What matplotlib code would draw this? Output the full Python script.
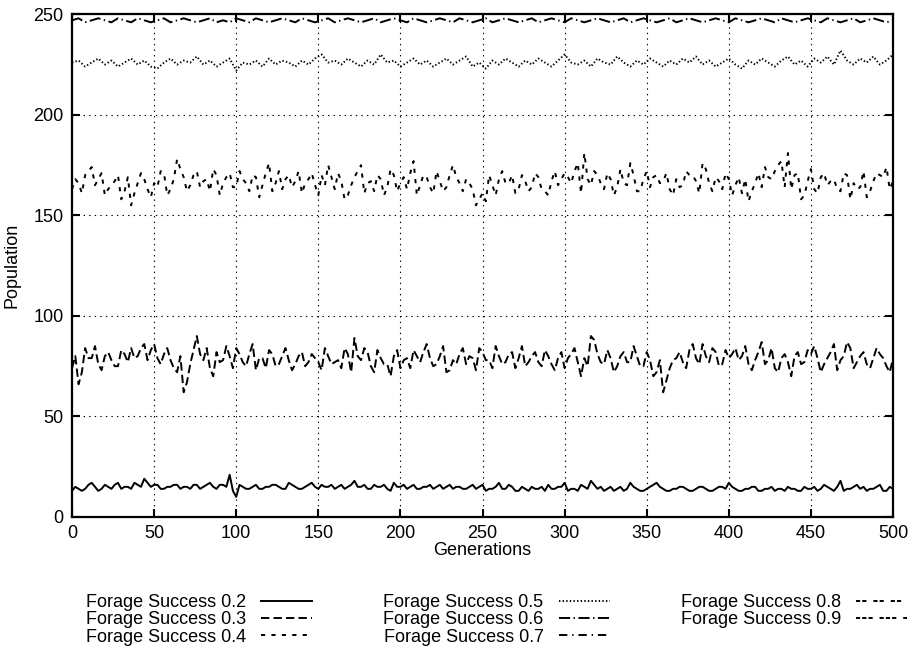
import matplotlib
matplotlib.use("Agg")
import matplotlib.pyplot as plt

plt.rcParams['font.family'] = ['Liberation Sans', 'DejaVu Sans']
plt.rcParams['lines.scale_dashes'] = False

# generations 0..500 every 4, and the in-between ones 2..498 every 4
gens4 = list(range(0, 501, 4))
gens_mid = list(range(2, 500, 4))

# Forage Success 0.2
s02 = [13, 14, 14, 17, 13, 16, 14, 17, 15, 14,
       16, 19, 15, 16, 14, 15, 16, 15, 14, 16,
       15, 17, 14, 16, 21, 10, 15, 14, 16, 14,
       15, 16, 14, 17, 15, 14, 16, 15, 16, 15,
       14, 16, 15, 18, 15, 14, 16, 15, 14, 17,
       15, 14, 16, 14, 15, 14, 16, 15, 14, 15,
       14, 16, 15, 13, 14, 17, 14, 15, 13, 14,
       15, 14, 13, 14, 15, 17, 14, 13, 15, 18,
       14, 13, 15, 14, 13, 17, 14, 13, 15, 17,
       14, 13, 14, 15, 13, 14, 15, 13, 14, 15,
       17, 14, 13, 14, 15, 13, 14, 13, 14, 15,
       14, 13, 14, 15, 14, 15, 13, 18, 14, 15,
       14, 13, 14, 16, 13, 14]
s02_mid = [15, 13, 16, 15, 14, 15, 16, 14, 15, 17,
           15, 17, 16, 14, 15, 16, 14, 15, 16, 14,
           16, 15, 16, 15, 13, 16, 14, 15, 14, 15,
           16, 15, 14, 16, 14, 15, 17, 14, 15, 16,
           15, 14, 16, 15, 16, 14, 15, 16, 13, 15,
           16, 15, 14, 15, 16, 15, 14, 16, 15, 14,
           15, 14, 16, 14, 15, 14, 16, 13, 15, 13,
           14, 15, 16, 14, 15, 13, 14, 16, 14, 16,
           15, 14, 13, 15, 14, 15, 13, 14, 16, 15,
           13, 14, 15, 14, 13, 15, 14, 13, 15, 14,
           15, 13, 14, 15, 13, 14, 15, 14, 13, 14,
           13, 15, 14, 13, 16, 14, 15, 13, 14, 16,
           15, 14, 15, 13, 15]

# Forage Success 0.3
s03 = [74, 66, 84, 79, 76, 80, 78, 75, 81, 84,
       80, 86, 83, 79, 81, 78, 72, 62, 76, 90,
       78, 74, 82, 78, 80, 84, 77, 81, 73, 79,
       83, 75, 80, 78, 76, 82, 77, 79, 73, 80,
       77, 74, 81, 89, 78, 82, 72, 79, 76, 80,
       74, 79, 83, 77, 86, 75, 80, 72, 78, 81,
       76, 79, 84, 78, 74, 80, 77, 82, 79, 75,
       80, 77, 83, 76, 79, 74, 81, 77, 79, 90,
       81, 76, 79, 75, 82, 77, 80, 75, 78, 72,
       62, 74, 79, 77, 83, 79, 86, 77, 82, 76,
       79, 84, 80, 76, 78, 87, 78, 74, 79, 77,
       80, 76, 83, 85, 72, 79, 86, 78, 87, 74,
       80, 76, 79, 81, 75, 79]
s03_mid = [80, 72, 79, 85, 73, 82, 75, 83, 77, 79,
           84, 78, 86, 76, 84, 74, 80, 67, 83, 81,
           84, 70, 77, 85, 74, 81, 75, 86, 79, 74,
           81, 76, 84, 73, 80, 75, 81, 77, 84, 76,
           78, 84, 72, 80, 84, 75, 83, 76, 70, 83,
           78, 74, 80, 82, 79, 76, 85, 73, 76, 84,
           80, 73, 82, 78, 85, 76, 81, 74, 85, 77,
           82, 75, 80, 73, 82, 79, 84, 70, 75, 88,
           77, 83, 72, 80, 77, 85, 75, 82, 70, 78,
           68, 78, 82, 74, 86, 76, 80, 84, 75, 83,
           81, 78, 85, 73, 82, 76, 84, 72, 81, 70,
           82, 77, 81, 79, 76, 82, 73, 80, 84, 77,
           82, 74, 84, 79, 72]

# Forage Success 0.4
s04 = [163, 166, 170, 174, 168, 160, 165, 170, 162, 155,
       166, 168, 159, 164, 171, 163, 178, 169, 165, 172,
       167, 162, 170, 166, 171, 164, 168, 162, 169, 165,
       176, 166, 163, 170, 167, 161, 168, 165, 170, 175,
       163, 167, 160, 169, 175, 166, 162, 168, 164, 170,
       166, 163, 177, 165, 169, 161, 167, 164, 175, 166,
       168, 163, 158, 157, 165, 168, 166, 170, 163, 167,
       164, 169, 162, 167, 165, 171, 166, 176, 181, 165,
       170, 163, 168, 164, 166, 176, 162, 168, 164, 170,
       167, 163, 168, 165, 170, 167, 176, 166, 169, 163,
       168, 165, 161, 157, 166, 164, 169, 172, 177, 181,
       170, 158, 167, 163, 169, 165, 168, 162, 170, 166,
       164, 159, 167, 170, 174, 167]
s04_mid = [168, 161, 172, 165, 171, 163, 167, 158, 169, 161,
           171, 163, 166, 172, 160, 168, 173, 162, 170, 164,
           168, 173, 160, 169, 164, 172, 166, 170, 159, 171,
           162, 172, 168, 164, 172, 166, 171, 160, 165, 169,
           171, 158, 165, 172, 161, 167, 170, 160, 173, 162,
           169, 171, 160, 170, 164, 172, 162, 170, 169, 162,
           166, 155, 161, 170, 160, 172, 166, 161, 170, 162,
           171, 163, 160, 172, 168, 169, 172, 161, 168, 172,
           166, 171, 160, 173, 165, 170, 162, 172, 169, 166,
           171, 160, 164, 172, 170, 161, 173, 162, 167, 171,
           160, 169, 168, 162, 171, 174, 168, 175, 164, 163,
           171, 160, 173, 161, 171, 167, 163, 171, 158, 163,
           172, 162, 171, 169, 163]

# Forage Success 0.5
s05 = [226, 227, 224, 226, 228, 225, 227, 224, 226, 228,
       225, 227, 224, 223, 226, 228, 225, 227, 226, 229,
       225, 227, 224, 226, 228, 222, 226, 225, 227, 224,
       228, 225, 227, 226, 224, 227, 225, 228, 230, 226,
       227, 225, 228, 226, 224, 227, 225, 230, 226, 227,
       224, 226, 228, 225, 227, 224, 226, 228, 225, 227,
       229, 224, 226, 223, 227, 225, 228, 226, 224, 227,
       225, 228, 226, 224, 227, 230, 226, 225, 227, 224,
       228, 226, 225, 229, 226, 224, 227, 225, 228, 226,
       224, 227, 225, 228, 226, 229, 225, 227, 224, 226,
       228, 225, 223, 227, 225, 228, 226, 224, 227, 229,
       225, 227, 224, 228, 226, 229, 225, 232, 227, 225,
       228, 226, 229, 225, 227, 230]

# Forage Success 0.6
s06 = [247, 248, 246, 247, 248, 247, 246, 248, 247, 246,
       248, 247, 246, 247, 248, 246, 247, 248, 247, 246,
       247, 248, 246, 247, 246, 248, 247, 246, 248, 247,
       246, 247, 248, 247, 246, 248, 247, 246, 247, 248,
       246, 247, 248, 247, 246, 247, 248, 246, 247, 248,
       247, 246, 248, 247, 246, 247, 248, 247, 246, 248,
       247, 246, 247, 248, 246, 247, 248, 247, 246, 247,
       248, 246, 247, 248, 247, 246, 248, 247, 246, 247,
       248, 247, 246, 247, 248, 246, 247, 248, 247, 246,
       247, 248, 246, 247, 248, 247, 246, 247, 248, 247,
       246, 248, 247, 246, 247, 248, 247, 246, 248, 247,
       246, 247, 248, 247, 246, 248, 247, 246, 247, 248,
       246, 247, 248, 247, 246, 247]

# 0.7 - 0.9 sit at the population cap
gens_cap = list(range(0, 501, 20))
s07 = [250] * 26
s08 = [250] * 26
s09 = [250] * 26

labels = ['Forage Success 0.2', 'Forage Success 0.3', 'Forage Success 0.4',
          'Forage Success 0.5', 'Forage Success 0.6', 'Forage Success 0.7',
          'Forage Success 0.8', 'Forage Success 0.9']


def merge(g_a, v_a, g_b, v_b):
    pts = sorted(zip(g_a + g_b, v_a + v_b))
    return [p[0] for p in pts], [p[1] for p in pts]


g2, y02 = merge(gens4, s02, gens_mid, s02_mid)
_, y03 = merge(gens4, s03, gens_mid, s03_mid)
_, y04 = merge(gens4, s04, gens_mid, s04_mid)

fig = plt.figure(figsize=(9.15, 6.49), dpi=100)
ax = fig.add_axes([0.0787, 0.2034, 0.8973, 0.7746])

lw = 1.4
ax.plot(g2, y02, color='black', lw=lw, linestyle='-', label=labels[0])
ax.plot(g2, y03, color='black', lw=lw, linestyle=(0, (6, 3)), label=labels[1])
ax.plot(g2, y04, color='black', lw=lw, linestyle=(0, (3, 4.5)), label=labels[2])
ax.plot(gens4, s05, color='black', lw=lw, linestyle=(0, (1, 1.6)), label=labels[3])
ax.plot(gens4, s06, color='black', lw=lw, linestyle=(0, (8, 2.5, 1, 2.5)), label=labels[4])
ax.plot(gens_cap, s07, color='black', lw=lw, linestyle=(0, (6, 3.5, 1, 3.5)), label=labels[5])
ax.plot(gens_cap, s08, color='black', lw=lw, linestyle=(0, (3, 1.5, 3, 5)), label=labels[6])
ax.plot(gens_cap, s09, color='black', lw=lw, linestyle=(0, (3, 1.5, 3, 1.5, 3, 5)), label=labels[7])

ax.set_xlim(0, 500)
ax.set_ylim(0, 250)
ax.set_xticks(range(0, 501, 50))
ax.set_yticks(range(0, 251, 50))
ax.tick_params(direction='in', length=6, width=1.5, top=True, right=True,
               labelsize=13, pad=6, colors='black')
for sp in ax.spines.values():
    sp.set_linewidth(1.6)
ax.grid(True, color='black', linestyle=(0, (1, 3)), linewidth=0.8)

ax.set_xlabel('Generations', fontsize=13, labelpad=0)
ax.set_ylabel('Population', fontsize=13, labelpad=9)

fig.legend(loc='upper left', bbox_to_anchor=(0.094, 0.085), ncol=3,
           frameon=False, fontsize=13, markerfirst=False, handlelength=2.8,
           handletextpad=0.85, columnspacing=3.95, labelspacing=0.02,
           borderpad=0, borderaxespad=0)

fig.savefig('out.png', dpi=100)
